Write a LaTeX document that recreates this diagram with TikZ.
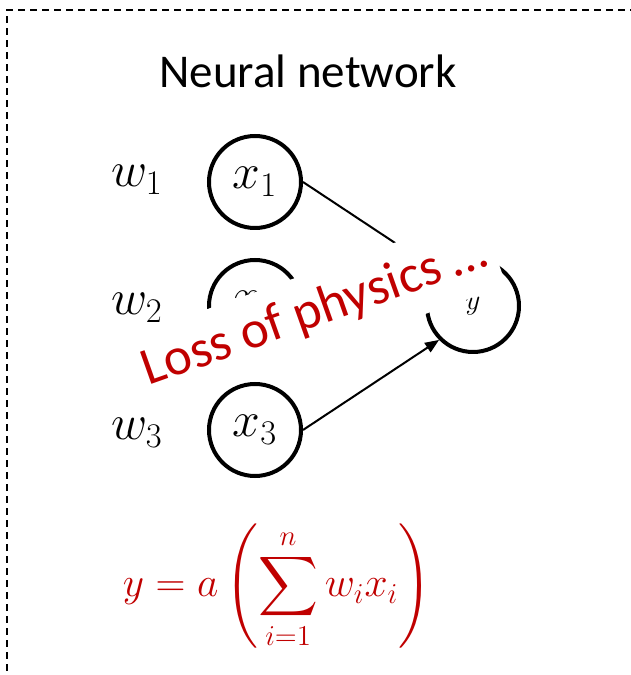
\documentclass[tikz,border=0pt]{standalone}
\usepackage{exscale}
\usepackage{fontspec}
\setmainfont{Carlito}
\usetikzlibrary{arrows.meta}
\definecolor{lossred}{RGB}{192,0,0}

\begin{document}
\begin{tikzpicture}[x=0.5pt, y=0.5pt]
    % Styles for the neuron sketch
    \tikzset{
        neuron/.style={circle, draw=black, line width=2pt, minimum size=46pt, inner sep=0pt, font=\fontsize{23}{27}\selectfont},
        wlbl/.style={anchor=base, inner sep=0pt, font=\fontsize{23}{27}\selectfont},
        link/.style={draw=black, line width=1pt, -{Triangle[length=7pt, width=5.5pt]}},
        frame/.style={draw=black, line width=0.8pt, dash pattern=on 3.5pt off 2.5pt},
        banner/.style={fill=white, text=lossred, rotate=19.5, inner xsep=4pt, inner ysep=8pt, font=\fontsize{26.5}{30}\selectfont}
    }

    % Page size of the reference
    \useasboundingbox (0,0) rectangle (631,675);

    % Dashed frame (runs off the page on the right and bottom)
    \draw[frame] (7,-20) -- (7,665) -- (700,665);

    % Title
    \node[anchor=base, font=\fontsize{23.5}{28}\selectfont] (title) at (308,587) {Neural network};

    % Input and output neurons
    \node[neuron] (x1) at (255,493) {$x_1$};
    \node[neuron] (x2) at (255,369) {$x_2$};
    \node[neuron] (x3) at (255,245) {$x_3$};
    \node[neuron, font=\fontsize{15}{18}\selectfont] (y) at (473,369) {$y$};

    % Weights
    \node[wlbl] (w1) at (137,488) {$w_1$};
    \node[wlbl] (w2) at (137,360) {$w_2$};
    \node[wlbl] (w3) at (137,235) {$w_3$};

    % Connections into the output
    \draw[link] (x1.east) -- (y.north west);
    \draw[link] (x2.east) -- (y.west);
    \draw[link] (x3.east) -- (y.south west);

    % Banner laid over the network
    \node[banner] (loss) at (315,363) {Loss of physics …};

    % Neuron output
    \node[text=lossred, inner sep=0pt, font=\fontsize{20}{24}\selectfont] (eq) at (277,88)
        {$\displaystyle y = a\left(\sum_{i=1}^{n} w_i x_i\right)$};

\end{tikzpicture}
\end{document}
